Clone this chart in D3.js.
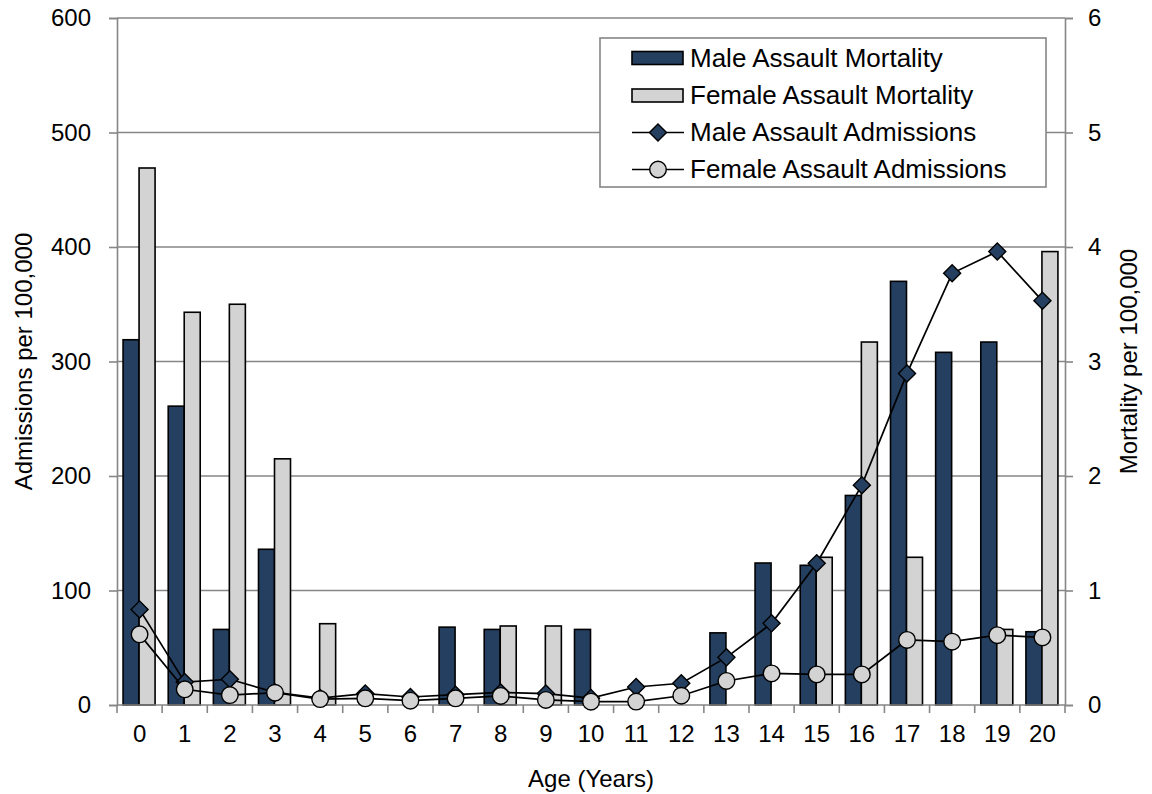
<!DOCTYPE html>
<html><head><meta charset="utf-8">
<script src="https://cdn.jsdelivr.net/npm/d3@7"></script>
<style>body{margin:0;background:#fff}svg{display:block;font-family:"Liberation Sans",Arial,sans-serif}</style>
</head><body><svg id="c" width="1152" height="794"></svg>
<script>
const ages = ["0","1","2","3","4","5","6","7","8","9","10","11","12","13","14","15","16","17","18","19","20"];
const maleMortality   = [3.19,2.61,0.66,1.36,0,0,0,0.68,0.66,0,0.66,0,0,0.63,1.24,1.22,1.83,3.70,3.08,3.17,0.64];
const femaleMortality = [4.69,3.43,3.50,2.15,0.71,0,0,0,0.69,0.69,0,0,0,0,0,1.29,3.17,1.29,0,0.66,3.96];
const maleAdmissions  = [83.5,20,22.5,11,6,10,7,9,11,10,6,15.7,19,41.6,71.3,123.8,192,289.6,377,396,353];
const femaleAdmissions= [61.7,13.7,8.7,10.7,5.2,5.8,3.8,5.8,7.9,4.4,2.9,3,8.1,21,27.6,26.7,26.7,56.8,55.3,61,59];
const leftTicks = [0,100,200,300,400,500,600];
const rightTicks = [0,1,2,3,4,5,6];
const seriesNames = ["Male Assault Mortality","Female Assault Mortality","Male Assault Admissions","Female Assault Admissions"];

const navy="#243f60", grey="#d3d3d3", axisCol="#868686";
const FS=24;
const svg=d3.select("#c");
const L=117,R=1065,T=18,B=705;
const x=d3.scaleBand().domain(ages).range([L,R]).paddingInner(0).paddingOuter(0);
const yL=d3.scaleLinear().domain([0,600]).range([B,T]);
const yR=d3.scaleLinear().domain([0,6]).range([B,T]);
const bw=16;

// gridlines
svg.append("g").selectAll("line").data(leftTicks.slice(1)).join("line")
 .attr("x1",L).attr("x2",R).attr("y1",d=>yL(d)).attr("y2",d=>yL(d))
 .attr("stroke",axisCol).attr("stroke-width",1.6);

// bars
const g=svg.append("g");
g.selectAll(".m").data(ages.map((a,i)=>({a,v:maleMortality[i]})).filter(d=>d.v>0)).join("rect")
 .attr("x",d=>x(d.a)+x.bandwidth()/2-bw-0.5).attr("width",bw)
 .attr("y",d=>yR(d.v)).attr("height",d=>B-yR(d.v))
 .attr("fill",navy).attr("stroke","#000").attr("stroke-width",1.6);
g.selectAll(".f").data(ages.map((a,i)=>({a,v:femaleMortality[i]})).filter(d=>d.v>0)).join("rect")
 .attr("x",d=>x(d.a)+x.bandwidth()/2-0.5).attr("width",bw)
 .attr("y",d=>yR(d.v)).attr("height",d=>B-yR(d.v))
 .attr("fill",grey).attr("stroke","#000").attr("stroke-width",1.6);

// axes
const axL=svg.append("g").attr("transform",`translate(${L},0)`)
 .call(d3.axisLeft(yL).tickValues(leftTicks).tickSize(8).tickPadding(18));
const axR=svg.append("g").attr("transform",`translate(${R},0)`)
 .call(d3.axisRight(yR).tickValues(rightTicks).tickFormat(d3.format("d")).tickSize(8).tickPadding(15));
const axB=svg.append("g").attr("transform",`translate(0,${B})`)
 .call(d3.axisBottom(x).tickSize(0).tickPadding(20));
// boundary ticks for bottom axis
svg.append("g").selectAll("line").data(d3.range(ages.length+1)).join("line")
 .attr("x1",i=>L+i*x.bandwidth()).attr("x2",i=>L+i*x.bandwidth())
 .attr("y1",B).attr("y2",B+8).attr("stroke",axisCol).attr("stroke-width",1.6);
[axL,axR,axB].forEach(a=>{
 a.attr("font-size",FS).attr("font-family","Liberation Sans, Arial, sans-serif");
 a.select(".domain").attr("stroke",axisCol).attr("stroke-width",1.6);
 a.selectAll(".tick line").attr("stroke",axisCol).attr("stroke-width",1.6);
 a.selectAll("text").attr("fill","#000");
});
axB.select(".domain").attr("d",`M${L},0H${R}`);

// lines
const cx=a=>x(a)+x.bandwidth()/2;
const lineL=d3.line().x(d=>cx(d.a)).y(d=>yL(d.v));
const md=ages.map((a,i)=>({a,v:maleAdmissions[i]}));
const fd=ages.map((a,i)=>({a,v:femaleAdmissions[i]}));
const diamond=d3.symbol(d3.symbolDiamond2,185);
svg.append("path").datum(md).attr("d",lineL).attr("fill","none").attr("stroke","#000").attr("stroke-width",1.7);
svg.append("g").selectAll("path").data(md).join("path")
 .attr("d",diamond).attr("transform",d=>`translate(${cx(d.a)},${yL(d.v)})`)
 .attr("fill",navy).attr("stroke","#000").attr("stroke-width",1.4);
svg.append("path").datum(fd).attr("d",lineL).attr("fill","none").attr("stroke","#000").attr("stroke-width",1.7);
svg.append("g").selectAll("circle").data(fd).join("circle")
 .attr("cx",d=>cx(d.a)).attr("cy",d=>yL(d.v)).attr("r",8.3)
 .attr("fill",grey).attr("stroke","#000").attr("stroke-width",1.4);

// axis titles
svg.append("text").attr("transform",`translate(32,${(T+B)/2}) rotate(-90)`).attr("text-anchor","middle")
 .attr("font-size",FS).text("Admissions per 100,000");
svg.append("text").attr("transform",`translate(1137,${(T+B)/2}) rotate(-90)`).attr("text-anchor","middle")
 .attr("font-size",FS).text("Mortality per 100,000");
svg.append("text").attr("x",(L+R)/2).attr("y",787).attr("text-anchor","middle")
 .attr("font-size",FS).text("Age (Years)");

// legend
const lg=svg.append("g");
lg.append("rect").attr("x",600).attr("y",38).attr("width",446).attr("height",149)
 .attr("fill","#fff").attr("stroke",axisCol).attr("stroke-width",1.6);
const rowsY=[66.5,104,141,178];
seriesNames.forEach((n,i)=>{
 const y=rowsY[i], c=y-8.5;
 if(i<2){
  lg.append("rect").attr("x",632).attr("y",c-6.5).attr("width",51).attr("height",13)
   .attr("fill",i==0?navy:grey).attr("stroke","#000").attr("stroke-width",1.6);
 } else {
  lg.append("line").attr("x1",632).attr("x2",684).attr("y1",c).attr("y2",c).attr("stroke","#000").attr("stroke-width",1.7);
  if(i==2) lg.append("path").attr("d",diamond).attr("transform",`translate(658,${c})`)
   .attr("fill",navy).attr("stroke","#000").attr("stroke-width",1.4);
  else lg.append("circle").attr("cx",658).attr("cy",c).attr("r",8.3).attr("fill",grey).attr("stroke","#000").attr("stroke-width",1.4);
 }
 lg.append("text").attr("x",690).attr("y",y).attr("font-size",26).text(n);
});
</script></body></html>
